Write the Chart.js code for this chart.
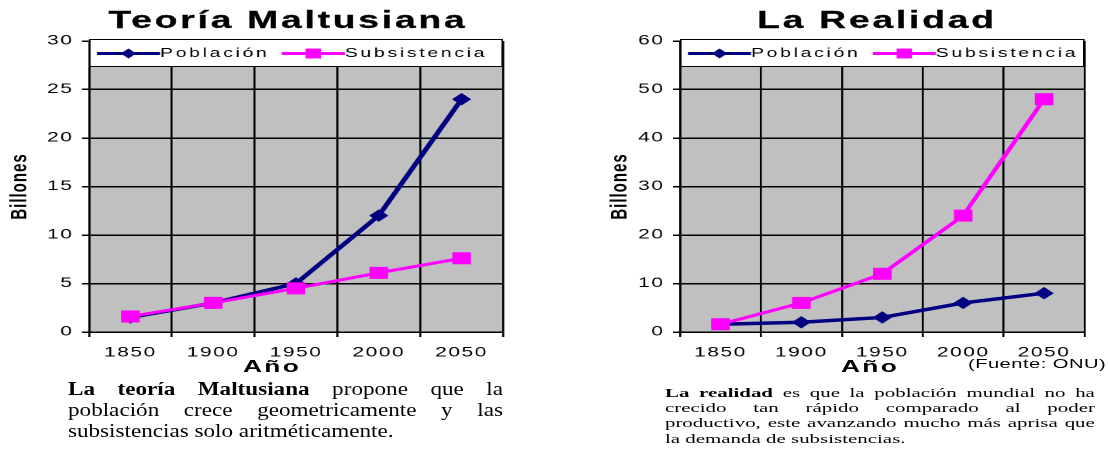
<!DOCTYPE html>
<html lang="es">
<head>
<meta charset="utf-8">
<title>Teoría Maltusiana / La Realidad</title>
<script src="https://cdn.jsdelivr.net/npm/chart.js@4/dist/chart.umd.min.js"></script>
<style>
  html, body { margin: 0; padding: 0; background: #fff; }
  body {
    width: 1108px; height: 458px; position: relative; overflow: hidden;
    font-family: 'Liberation Sans', Arial, sans-serif; color: #000;
  }
  /* each panel is drawn narrow and widened horizontally */
  .panel { position: absolute; top: 0; height: 458px; transform-origin: 0 0; transform: scaleX(1.55); }
  .wrap { position: absolute; left: 0; top: 0; height: 370px; }
  .heading {
    position: absolute; top: 7.5px; white-space: nowrap; transform: translateX(-50%);
    font: bold 24px/24px 'Liberation Sans', Arial, sans-serif; letter-spacing: 1.8px;
    -webkit-text-stroke: 0.3px #000;
  }
  .axisName {
    position: absolute; top: 357.6px; white-space: nowrap; transform: translateX(-50%);
    font: bold 17px/17px 'Liberation Sans', Arial, sans-serif; letter-spacing: 1.5px;
  }
  .source {
    position: absolute; top: 357px; white-space: nowrap;
    font: 13px/13px 'Liberation Sans', Arial, sans-serif; letter-spacing: 0.3px;
  }
  .note { position: absolute; font-family: 'Liberation Serif', 'Times New Roman', serif; color: #000; }
  .note .j { text-align: justify; text-align-last: justify; }
  #notaTeoria {
    left: 68px; top: 379px; width: 348px; font-size: 18.5px; line-height: 21px;
    transform-origin: 0 0; transform: scaleX(1.25);
  }
  #notaRealidad { left: 54.8px; top: 384.8px; width: 277.4px; font-size: 13.5px; line-height: 15.3px; }
</style>
</head>
<body>

<div class="panel" id="panelTeoria" style="left:0px; width:340px;">
  <div class="wrap" id="wrapTeoria"><canvas id="chartTeoria"></canvas></div>
  <div class="heading" style="left:185.8px;">Teoría Maltusiana</div>
  <div class="axisName" style="left:175.5px;">Año</div>
</div>

<div class="panel" id="panelRealidad" style="left:580px; width:341px;">
  <div class="wrap" id="wrapRealidad"><canvas id="chartRealidad"></canvas></div>
  <div class="heading" style="left:191.6px;">La Realidad</div>
  <div class="axisName" style="left:187.1px;">Año</div>
  <div class="source" style="left:250.3px;">(Fuente: ONU)</div>
  <div class="note" id="notaRealidad">
    <div class="j"><b>La realidad</b> es que la población mundial no ha</div>
    <div class="j">crecido tan rápido comparado al poder</div>
    <div class="j">productivo, este avanzando mucho más aprisa que</div>
    <div>la demanda de subsistencias.</div>
  </div>
</div>

<div class="note" id="notaTeoria">
  <div class="j"><b>La teoría Maltusiana</b> propone que la</div>
  <div class="j">población crece geometricamente y las</div>
  <div>subsistencias solo aritméticamente.</div>
</div>

<script>
// ---- data (billions) ----
const anios = ['1850', '1900', '1950', '2000', '2050'];

const teoriaPoblacion    = [1.5, 3, 5, 12, 24];
const teoriaSubsistencia = [1.6, 3, 4.5, 6.1, 7.6];

const realidadPoblacion    = [1.6, 2, 3, 6, 8];
const realidadSubsistencia = [1.6, 6, 12, 24, 48];

const teoriaEjeY   = { max: 30, paso: 5 };
const realidadEjeY = { max: 60, paso: 10 };

const etiquetas = { poblacion: 'Población', subsistencia: 'Subsistencia', eje: 'Billones' };

// ---- look ----
const STRETCH = 1.55;                 // horizontal widening of the panels
const u = v => v / STRETCH;           // screen px -> panel px
const AZUL = '#000080';
const MAGENTA = '#FF00FF';
const GRIS = '#C0C0C0';
const FUENTE = "'Liberation Sans', Arial, sans-serif";
const Y_TITLE_SIZE = 15, Y_TITLE_PAD = 2;
const PLOT_TOP = 41, PLOT_BOTTOM = 332, CANVAS_H = 370;

// grey plotting area
const plotBackground = {
  id: 'plotBackground',
  beforeDraw(chart) {
    const { ctx, chartArea: a } = chart;
    ctx.save();
    ctx.fillStyle = GRIS;
    ctx.fillRect(a.left, a.top, a.right - a.left, a.bottom - a.top);
    ctx.restore();
  }
};

// wider spacing between characters of the axis texts
const textSpacing = {
  id: 'textSpacing',
  beforeDraw(chart, args, opts) {
    chart.ctx.letterSpacing = opts.spacing || '0px';
  }
};

// framed key across the top of the plotting area
const legendPanel = {
  id: 'legendPanel',
  afterDatasetsDraw(chart) {
    const { ctx, chartArea: a } = chart;
    const top = a.top - 2, h = 28;
    ctx.save();
    ctx.fillStyle = '#fff';
    ctx.fillRect(a.left, top, a.right - a.left, h);
    ctx.strokeStyle = '#000';
    ctx.lineWidth = 1;
    ctx.strokeRect(a.left + 0.5, top + 0.5, a.right - a.left - 1, h - 1);

    ctx.font = '12.5px ' + FUENTE;
    ctx.letterSpacing = '1.75px';
    ctx.textBaseline = 'middle';
    ctx.textAlign = 'left';
    const y = top + h / 2 + 0.5;
    const lineLen = u(63);
    let x = a.left + u(8);
    // key follows dataset order (Población first)
    const sets = chart.data.datasets.slice().sort((p, q) => p.keyIndex - q.keyIndex);
    sets.forEach(ds => {
      ctx.strokeStyle = ds.borderColor;
      ctx.lineWidth = 3;
      ctx.beginPath();
      ctx.moveTo(x, y);
      ctx.lineTo(x + lineLen, y);
      ctx.stroke();
      ctx.fillStyle = ds.borderColor;
      Chart.helpers.drawPoint(ctx, {
        pointStyle: ds.pointStyle, rotation: 0, radius: ds.keyRadius, borderWidth: 0
      }, x + lineLen / 2, y);
      ctx.fillStyle = '#000';
      ctx.fillText(ds.label, x + lineLen, y);
      x += lineLen + ctx.measureText(ds.label).width + u(15) - 1.75;
    });
    ctx.restore();
  }
};

function crearGrafico(canvasId, wrapId, poblacion, subsistencia, ejeY, geo) {
  const titleOffset = Y_TITLE_PAD + (Y_TITLE_SIZE * 1.2) / 2;
  const padLeft = u(geo.titleCenter) - titleOffset;
  const yWidth = u(geo.axisLeft) - padLeft;
  const plotRight = u(geo.axisRight);
  const wrapW = Math.ceil(plotRight) + 3;
  const wrap = document.getElementById(wrapId);
  wrap.style.width = wrapW + 'px';

  return new Chart(document.getElementById(canvasId), {
    type: 'line',
    data: {
      labels: anios,
      datasets: [
        {
          label: etiquetas.poblacion, data: poblacion, keyIndex: 0, order: 1,
          borderColor: AZUL, backgroundColor: AZUL, borderWidth: 3.5,
          pointStyle: 'rectRot', pointRadius: 6.2, pointBorderWidth: 0,
          pointBackgroundColor: AZUL, keyRadius: 5, tension: 0
        },
        {
          label: etiquetas.subsistencia, data: subsistencia, keyIndex: 1, order: 0,
          borderColor: MAGENTA, backgroundColor: MAGENTA, borderWidth: 3,
          pointStyle: 'rect', pointRadius: 8.5, pointBorderWidth: 0,
          pointBackgroundColor: MAGENTA, keyRadius: 7, tension: 0
        }
      ]
    },
    options: {
      responsive: true,
      maintainAspectRatio: false,
      animation: false,
      events: [],
      devicePixelRatio: 2,
      layout: { padding: { left: padLeft, right: wrapW - plotRight, top: PLOT_TOP, bottom: 0 } },
      plugins: {
        legend: { display: false },
        title: { display: false },
        tooltip: { enabled: false },
        textSpacing: { spacing: '1px' }
      },
      scales: {
        x: {
          type: 'category',
          offset: true,
          grid: { offset: true, color: '#000', lineWidth: 1.3, tickLength: 5, tickColor: '#000', tickWidth: 1.3 },
          border: { display: true, color: '#000', width: 1.5 },
          ticks: { color: '#000', font: { family: FUENTE, size: 13.5 }, padding: 7.9, maxRotation: 0, autoSkip: false },
          afterFit(s) { s.height = CANVAS_H - PLOT_BOTTOM; }
        },
        y: {
          min: 0,
          max: ejeY.max,
          ticks: { stepSize: ejeY.paso, color: '#000', font: { family: FUENTE, size: 13.5 }, padding: 5.5 },
          grid: { color: '#000', lineWidth: 1.5, tickLength: 4.5, tickColor: '#000', tickWidth: 1.5 },
          border: { display: true, color: '#000', width: 1.3 },
          title: {
            display: true, text: etiquetas.eje, color: '#000',
            font: { family: FUENTE, size: Y_TITLE_SIZE, weight: 'bold' },
            padding: { top: Y_TITLE_PAD, bottom: 0 }
          },
          afterFit(s) { s.width = yWidth; }
        }
      }
    },
    plugins: [plotBackground, textSpacing, legendPanel]
  });
}

crearGrafico('chartTeoria', 'wrapTeoria', teoriaPoblacion, teoriaSubsistencia, teoriaEjeY,
  { axisLeft: 89, axisRight: 510, titleCenter: 20 });
crearGrafico('chartRealidad', 'wrapRealidad', realidadPoblacion, realidadSubsistencia, realidadEjeY,
  { axisLeft: 100, axisRight: 513, titleCenter: 40 });
</script>
</body>
</html>
